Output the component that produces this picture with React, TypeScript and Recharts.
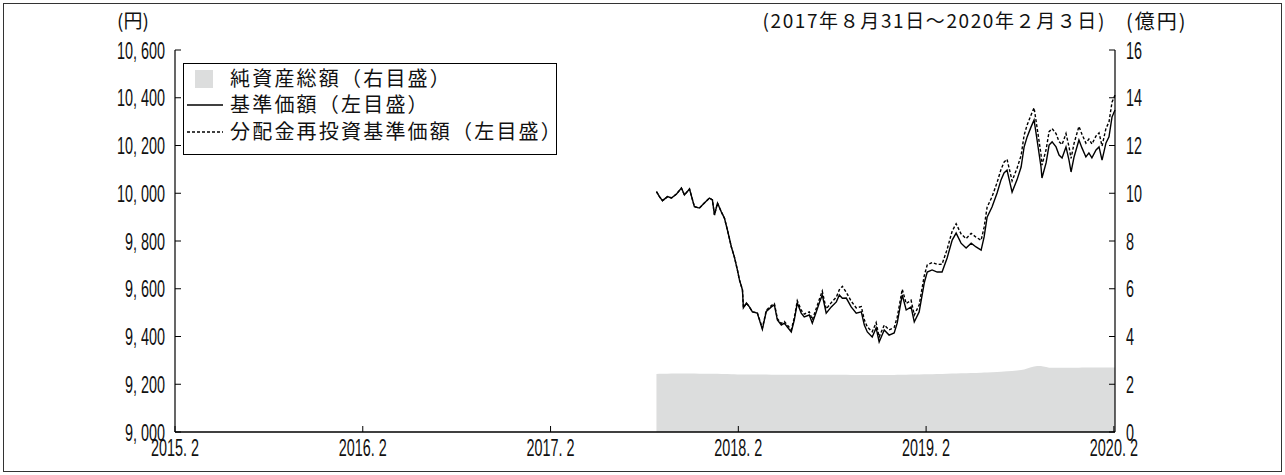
import React from "react";
import {
  ComposedChart,
  Area,
  Line,
  XAxis,
  YAxis,
} from "recharts";

// dates as decimal years (2017/08/31 - 2020/02/03)
const dates = [
  2017.647, 2017.663, 2017.679, 2017.706, 2017.727, 2017.754, 2017.78, 2017.796, 2017.823, 2017.849,
  2017.876, 2017.902, 2017.929, 2017.945, 2017.956, 2017.972, 2017.993, 2018.009, 2018.025, 2018.046,
  2018.062, 2018.078, 2018.089, 2018.105, 2018.11, 2018.126, 2018.142, 2018.158, 2018.184, 2018.211,
  2018.232, 2018.259, 2018.275, 2018.291, 2018.312, 2018.328, 2018.344, 2018.365, 2018.381, 2018.397,
  2018.418, 2018.434, 2018.461, 2018.477, 2018.498, 2018.514, 2018.53, 2018.551, 2018.578, 2018.605,
  2018.621, 2018.637, 2018.658, 2018.684, 2018.711, 2018.738, 2018.754, 2018.77, 2018.796, 2018.817,
  2018.833, 2018.86, 2018.886, 2018.913, 2018.929, 2018.956, 2018.977, 2019.003, 2019.02, 2019.046,
  2019.073, 2019.089, 2019.115, 2019.142, 2019.168, 2019.195, 2019.222, 2019.243, 2019.269, 2019.296,
  2019.323, 2019.349, 2019.376, 2019.392, 2019.408, 2019.434, 2019.461, 2019.482, 2019.498, 2019.514,
  2019.541, 2019.567, 2019.589, 2019.605, 2019.621, 2019.642, 2019.658, 2019.674, 2019.695, 2019.7,
  2019.722, 2019.738, 2019.754, 2019.775, 2019.791, 2019.807, 2019.828, 2019.844, 2019.855, 2019.871,
  2019.897, 2019.913, 2019.934, 2019.95, 2019.966, 2019.988, 2020.004, 2020.02, 2020.041, 2020.057,
  2020.073, 2020.089,
];

// 基準価額 (円)
const nav = [
  10007, 9986, 9969, 9986, 9980, 9997, 10022, 9993, 10018, 9944,
  9938, 9959, 9980, 9972, 9909, 9959, 9921, 9896, 9846, 9775,
  9733, 9679, 9637, 9595, 9520, 9540, 9524, 9503, 9498, 9430,
  9505, 9524, 9532, 9469, 9448, 9456, 9440, 9419, 9469, 9540,
  9498, 9482, 9490, 9456, 9503, 9540, 9574, 9498, 9524, 9545,
  9574, 9560, 9561, 9524, 9498, 9503, 9448, 9419, 9398, 9436,
  9377, 9427, 9406, 9415, 9456, 9574, 9511, 9524, 9461, 9503,
  9624, 9670, 9679, 9670, 9670, 9729, 9804, 9833, 9791, 9771,
  9791, 9775, 9762, 9817, 9900, 9942, 10001, 10056, 10085, 10097,
  10005, 10056, 10110, 10194, 10236, 10278, 10307, 10223, 10110, 10064,
  10127, 10202, 10215, 10194, 10160, 10148, 10194, 10139, 10089, 10152,
  10223, 10190, 10152, 10169, 10148, 10181, 10194, 10139, 10211, 10236,
  10319, 10349,
];

// 分配金再投資基準価額 (円)
const navReinvested = [
  10007, 9986, 9969, 9986, 9980, 9997, 10022, 9993, 10018, 9944,
  9938, 9959, 9980, 9972, 9909, 9959, 9921, 9896, 9846, 9775,
  9733, 9679, 9637, 9595, 9520, 9540, 9524, 9503, 9500, 9435,
  9510, 9530, 9538, 9475, 9455, 9463, 9448, 9428, 9478, 9550,
  9510, 9494, 9503, 9470, 9517, 9555, 9590, 9515, 9542, 9565,
  9596, 9610, 9585, 9548, 9520, 9525, 9470, 9440, 9420, 9458,
  9398, 9448, 9428, 9438, 9480, 9598, 9538, 9552, 9490, 9532,
  9654, 9700, 9710, 9702, 9703, 9765, 9842, 9872, 9830, 9810,
  9832, 9816, 9803, 9858, 9942, 9985, 10045, 10100, 10130, 10142,
  10052, 10104, 10158, 10243, 10286, 10328, 10358, 10275, 10163, 10118,
  10182, 10258, 10271, 10250, 10216, 10204, 10250, 10195, 10146, 10209,
  10280, 10247, 10210, 10227, 10206, 10240, 10253, 10198, 10272, 10298,
  10381, 10411,
];

// 純資産総額 (億円)
const netAssets = [
  2.43, 2.44, 2.44, 2.44, 2.45, 2.45, 2.45, 2.45, 2.45, 2.45,
  2.44, 2.44, 2.44, 2.44, 2.44, 2.44, 2.43, 2.43, 2.43, 2.42,
  2.42, 2.41, 2.41, 2.41, 2.41, 2.41, 2.41, 2.41, 2.41, 2.41,
  2.41, 2.4, 2.4, 2.4, 2.4, 2.4, 2.4, 2.4, 2.4, 2.4,
  2.4, 2.4, 2.4, 2.4, 2.4, 2.4, 2.4, 2.4, 2.4, 2.4,
  2.4, 2.4, 2.4, 2.39, 2.39, 2.39, 2.39, 2.39, 2.39, 2.39,
  2.39, 2.39, 2.39, 2.39, 2.4, 2.4, 2.4, 2.41, 2.41, 2.41,
  2.42, 2.42, 2.42, 2.43, 2.43, 2.44, 2.45, 2.45, 2.46, 2.46,
  2.47, 2.47, 2.48, 2.49, 2.49, 2.5, 2.51, 2.52, 2.53, 2.54,
  2.56, 2.58, 2.6, 2.62, 2.66, 2.71, 2.74, 2.76, 2.76, 2.75,
  2.72, 2.69, 2.69, 2.69, 2.69, 2.69, 2.69, 2.69, 2.69, 2.69,
  2.69, 2.7, 2.7, 2.7, 2.7, 2.7, 2.7, 2.7, 2.7, 2.7,
  2.7, 2.7,
];

const xTicks = [2015.083, 2016.083, 2017.083, 2018.083, 2019.083, 2020.083];
const xTickLabels = ["2015. 2", "2016. 2", "2017. 2", "2018. 2", "2019. 2", "2020. 2"];
const leftTicks = [9000, 9200, 9400, 9600, 9800, 10000, 10200, 10400, 10600];
const rightTicks = [0, 2, 4, 6, 8, 10, 12, 14, 16];

const data = dates.map((t, i) => ({
  t,
  nav: nav[i],
  navReinvested: navReinvested[i],
  netAssets: netAssets[i],
}));

const NUM_FONT = "'Liberation Sans', Arial, sans-serif";
const CJK = "'Noto Sans CJK JP', sans-serif";
const SQUEEZE = 0.6;

const fmtYen = (v: number) => {
  const s = String(v);
  return s.length > 3 ? `${s.slice(0, -3)}, ${s.slice(-3)}` : s;
};

// narrow (condensed) tick label like the original gothic digits
function narrowTick(anchor: "start" | "middle" | "end", dy: string, fmt: (v: number) => string) {
  return (props: any) => {
    const { x, y, payload } = props;
    return (
      <g transform={`translate(${x},${y}) scale(${SQUEEZE},1)`}>
        <text
          x={0}
          y={0}
          dy={dy}
          textAnchor={anchor}
          fontSize={24}
          fontFamily={NUM_FONT}
          fill="#111"
        >
          {fmt(payload.value)}
        </text>
      </g>
    );
  };
}

const xLabel = (v: number) => xTickLabels[xTicks.indexOf(v)] ?? "";

export default function App() {
  return (
    <div
      style={{
        position: "absolute",
        left: 0,
        top: 0,
        width: 1285,
        height: 475,
        background: "#fff",
      }}
    >
      <div
        style={{
          position: "absolute",
          left: 3,
          top: 3,
          width: 1277,
          height: 467,
          border: "1px solid #333",
        }}
      />
      <ComposedChart
        width={1285}
        height={475}
        data={data}
        margin={{ top: 50, right: 0, bottom: 0, left: 0 }}
      >
        <XAxis
          dataKey="t"
          type="number"
          domain={[2015.083, 2020.089]}
          ticks={xTicks}
          height={43}
          tickSize={-6}
          tickMargin={13}
          tick={narrowTick("middle", "0.72em", xLabel)}
          axisLine={{ stroke: "#000", strokeWidth: 1.5 }}
          tickLine={{ stroke: "#000" }}
          interval={0}
        />
        <YAxis
          yAxisId="left"
          orientation="left"
          domain={[9000, 10600]}
          ticks={leftTicks}
          width={175}
          tickSize={-6}
          tickMargin={16}
          tick={narrowTick("end", "0.36em", fmtYen)}
          axisLine={{ stroke: "#000", strokeWidth: 1.2 }}
          tickLine={{ stroke: "#000" }}
          interval={0}
        />
        <YAxis
          yAxisId="right"
          orientation="right"
          domain={[0, 16]}
          ticks={rightTicks}
          width={170}
          tickSize={-6}
          tickMargin={17}
          tick={narrowTick("start", "0.36em", (v) => String(v))}
          axisLine={{ stroke: "#000", strokeWidth: 1.2 }}
          tickLine={{ stroke: "#000" }}
          interval={0}
        />
        <Area
          yAxisId="right"
          dataKey="netAssets"
          type="linear"
          fill="#dcdddd"
          fillOpacity={1}
          stroke="none"
          isAnimationActive={false}
        />
        <Line
          yAxisId="left"
          dataKey="navReinvested"
          type="linear"
          stroke="#000"
          strokeWidth={1.4}
          strokeDasharray="3 2"
          dot={false}
          isAnimationActive={false}
        />
        <Line
          yAxisId="left"
          dataKey="nav"
          type="linear"
          stroke="#000"
          strokeWidth={1.4}
          dot={false}
          isAnimationActive={false}
        />
      </ComposedChart>

      <div style={{ position: "absolute", left: 117, top: 6, fontSize: 19, fontFamily: CJK, color: "#111" }}>
        (円)
      </div>
      <div
        style={{
          position: "absolute",
          left: 1126,
          top: 6,
          fontSize: 20,
          letterSpacing: 2,
          fontFamily: CJK,
          color: "#111",
        }}
      >
        (億円)
      </div>
      <div
        style={{
          position: "absolute",
          right: 1285 - 1106,
          top: 6,
          fontSize: 19,
          letterSpacing: 1.6,
          fontFamily: CJK,
          color: "#111",
          whiteSpace: "nowrap",
        }}
      >
        (2017年８月31日～2020年２月３日)
      </div>

      <div
        style={{
          position: "absolute",
          left: 183,
          top: 63,
          width: 372,
          height: 90,
          border: "1.5px solid #000",
          background: "#fff",
          fontFamily: CJK,
          fontSize: 20,
          letterSpacing: 2.2,
          color: "#111",
        }}
      >
        <div style={{ position: "absolute", left: 11, top: 6, width: 18, height: 18, background: "#dcdddd" }} />
        <div style={{ position: "absolute", left: 46, top: 2, lineHeight: "24px", whiteSpace: "nowrap" }}>
          純資産総額（右目盛）
        </div>
        <svg style={{ position: "absolute", left: 3, top: 39 }} width={36} height={4}>
          <line x1={0} y1={2} x2={36} y2={2} stroke="#000" strokeWidth={1.3} />
        </svg>
        <div style={{ position: "absolute", left: 46, top: 28, lineHeight: "24px", whiteSpace: "nowrap" }}>
          基準価額（左目盛）
        </div>
        <svg style={{ position: "absolute", left: 3, top: 66 }} width={36} height={4}>
          <line x1={0} y1={2} x2={36} y2={2} stroke="#000" strokeWidth={1.3} strokeDasharray="3 2" />
        </svg>
        <div style={{ position: "absolute", left: 46, top: 55, lineHeight: "24px", whiteSpace: "nowrap" }}>
          分配金再投資基準価額（左目盛）
        </div>
      </div>
    </div>
  );
}
